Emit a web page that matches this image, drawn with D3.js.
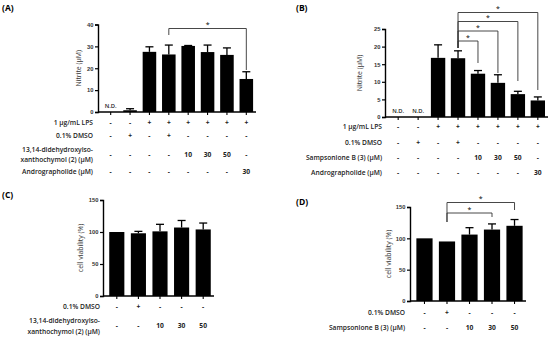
<!DOCTYPE html>
<html>
<head>
<meta charset="utf-8">
<script src="https://cdn.jsdelivr.net/npm/d3@7"></script>
<style>
  body { margin: 0; background: #fff; }
  svg { font-family: "Open Sans", sans-serif; }
  .tick text { font-size: 5.8px; font-weight: 600; fill: #333; }
  .rowlab { font-size: 6.7px; font-weight: 600; fill: #222; }
  .sign { font-size: 6.7px; font-weight: 700; fill: #222; }
  .plab { font-size: 8.5px; font-weight: 700; }
  .ytitle { font-size: 6.9px; fill: #333; }
</style>
</head>
<body>
<svg id="fig" width="550" height="340"></svg>
<script>
// data
var nitriteA = [0, 0.8, 27.5, 26.3, 30.2, 27.4, 26.1, 15.1];
var nitriteAErr = [0, 0.7, 2.3, 4.3, 0.2, 3.2, 3.2, 3.3];
var nitriteB = [0, 0, 16.8, 16.7, 12.3, 9.7, 6.5, 4.7];
var nitriteBErr = [0, 0, 3.7, 2.1, 0.9, 2.3, 0.8, 1.0];
var viabC = [100, 98, 101, 107, 104];
var viabCErr = [0, 3, 11, 11, 10];
var viabD = [100, 95, 106, 114, 120];
var viabDErr = [0, 0, 11, 9, 10];

var lpsRow = ["-", "-", "+", "+", "+", "+", "+", "+"];
var dmsoRow8 = ["-", "+", "-", "+", "-", "-", "-", "-"];
var cmpdRow8 = ["-", "-", "-", "-", "10", "30", "50", "-"];
var androRow = ["-", "-", "-", "-", "-", "-", "-", "30"];
var dmsoRow5 = ["-", "+", "-", "-", "-"];
var cmpdRow5 = ["-", "-", "10", "30", "50"];
var ndA = [true, false, false, false, false, false, false, false];
var ndB = [true, true, false, false, false, false, false, false];

var svg = d3.select("#fig");

function panel(o) {
  var n = o.vals.length;
  var g = svg.append("g");
  var x = d3.scaleBand().domain(d3.range(n)).range([o.x0 + 3, o.x1]).paddingInner(o.pad).paddingOuter(0.15);
  var y = d3.scaleLinear().domain([0, o.ymax]).range([o.y0, o.ytop]);

  g.selectAll("rect.bar").data(o.vals).enter().append("rect")
    .attr("x", function(d, i) { return x(i); })
    .attr("width", x.bandwidth())
    .attr("y", function(d) { return y(d); })
    .attr("height", function(d) { return o.y0 - y(d); })
    .attr("fill", "#000");

  // error bars (upper only)
  o.vals.forEach(function(v, i) {
    var e = o.errs[i];
    if (!e) return;
    var cx = x(i) + x.bandwidth() / 2;
    g.append("line").attr("x1", cx).attr("x2", cx).attr("y1", y(v)).attr("y2", y(v + e))
      .attr("stroke", "#000").attr("stroke-width", 1.3);
    g.append("line").attr("x1", cx - 4).attr("x2", cx + 4).attr("y1", y(v + e)).attr("y2", y(v + e))
      .attr("stroke", "#000").attr("stroke-width", 1.3);
  });

  if (o.nd) o.nd.forEach(function(f, i) {
    if (!f) return;
    g.append("text").attr("x", x(i) + x.bandwidth() / 2).attr("y", o.y0 - 4)
      .attr("text-anchor", "middle").style("font-size", "5.8px").style("font-weight", "600").style("fill", "#222").text("N.D.");
  });

  var ya = g.append("g").attr("transform", "translate(" + o.x0 + ",0)")
    .call(d3.axisLeft(y).tickValues(o.ticks).tickSize(3).tickPadding(1.5));
  ya.select(".domain").attr("stroke-width", 1.4);
  ya.selectAll(".tick line").attr("stroke-width", 1.2);

  var xa = g.append("g").attr("transform", "translate(0," + o.y0 + ")")
    .call(d3.axisBottom(x).tickSize(3).tickFormat("").tickSizeOuter(0));
  xa.select(".domain").attr("stroke-width", 1.4).attr("d", "M" + o.x0 + ",0H" + o.x1);
  xa.selectAll(".tick line").attr("stroke-width", 1.1);

  g.append("text").attr("class", "ytitle").attr("text-anchor", "middle")
    .attr("transform", "translate(" + o.ytx + "," + ((o.y0 + o.ytop) / 2) + ") rotate(-90)")
    .text(o.ytitle);

  g.append("text").attr("class", "plab").attr("x", o.plx).attr("y", o.ply).text(o.plab);

  // treatment rows
  o.rows.forEach(function(r) {
    r.lab.forEach(function(t, k) {
      g.append("text").attr("class", "rowlab").attr("text-anchor", "end")
        .attr("x", o.labx).attr("y", r.y + (k - (r.lab.length - 1) / 2) * 10.5 + 2.3).text(t);
    });
    r.vals.forEach(function(t, i) {
      g.append("text").attr("class", "sign").attr("text-anchor", "middle")
        .attr("x", x(i) + x.bandwidth() / 2).attr("y", r.y + 2.3).text(t);
    });
  });

  // significance brackets
  (o.sig || []).forEach(function(s) {
    var xa0 = x(s.from) + x.bandwidth() / 2, xb = x(s.to) + x.bandwidth() / 2;
    g.append("path")
      .attr("d", "M" + xa0 + "," + s.leftBottom + "V" + s.top + "H" + xb + "V" + s.rightBottom)
      .attr("fill", "none").attr("stroke", "#333").attr("stroke-width", 0.9);
    g.append("text").attr("x", (xa0 + xb) / 2).attr("y", s.top - 1.5).attr("text-anchor", "middle")
      .style("font-size", "7px").text("*");
  });
}

panel({
  vals: nitriteA, errs: nitriteAErr, nd: ndA,
  x0: 98, x1: 256, y0: 112, ytop: 24.5, ymax: 40, ticks: [0, 10, 20, 30, 40], pad: 0.3,
  ytitle: "Nitrite (\u00b5M)", ytx: 81, plab: "(A)", plx: 2, ply: 11,
  labx: 93,
  rows: [
    { lab: ["1 \u00b5g/mL LPS"], vals: lpsRow, y: 122.5 },
    { lab: ["0.1% DMSO"], vals: dmsoRow8, y: 136 },
    { lab: ["13,14-didehydroxyiso-", "xanthochymol (2) (\u00b5M)"], vals: cmpdRow8, y: 154.5 },
    { lab: ["Andrographolide (\u00b5M)"], vals: androRow, y: 172 }
  ],
  sig: [{ from: 3, to: 7, top: 28.5, leftBottom: 35, rightBottom: 70 }]
});

panel({
  vals: nitriteB, errs: nitriteBErr, nd: ndB,
  x0: 385, x1: 548, y0: 117, ytop: 29, ymax: 25, ticks: [0, 5, 10, 15, 20, 25], pad: 0.28,
  ytitle: "Nitrite (\u00b5M)", ytx: 362, plab: "(B)", plx: 296, ply: 11,
  labx: 382,
  rows: [
    { lab: ["1 \u00b5g/mL LPS"], vals: lpsRow, y: 127 },
    { lab: ["0.1% DMSO"], vals: dmsoRow8, y: 143 },
    { lab: ["Sampsonione B (3) (\u00b5M)"], vals: cmpdRow8, y: 158 },
    { lab: ["Andrographolide (\u00b5M)"], vals: androRow, y: 172.5 }
  ],
  sig: [
    { from: 3, to: 4, top: 41, leftBottom: 48, rightBottom: 63 },
    { from: 3, to: 5, top: 31, leftBottom: 48, rightBottom: 73 },
    { from: 3, to: 6, top: 21.5, leftBottom: 48, rightBottom: 81 },
    { from: 3, to: 7, top: 12.5, leftBottom: 48, rightBottom: 90 }
  ]
});

panel({
  vals: viabC, errs: viabCErr,
  x0: 103, x1: 214, y0: 296, ytop: 200, ymax: 150, ticks: [0, 50, 100, 150], pad: 0.3,
  ytitle: "cell viability (%)", ytx: 83, plab: "(C)", plx: 2, ply: 198,
  labx: 100,
  rows: [
    { lab: ["0.1% DMSO"], vals: dmsoRow5, y: 307 },
    { lab: ["13,14-didehydroxyiso-", "xanthochymol (2) (\u00b5M)"], vals: cmpdRow5, y: 326 }
  ]
});

panel({
  vals: viabD, errs: viabDErr,
  x0: 410, x1: 526, y0: 301, ytop: 207, ymax: 150, ticks: [0, 50, 100, 150], pad: 0.28,
  ytitle: "cell viability (%)", ytx: 391, plab: "(D)", plx: 296, ply: 205,
  labx: 405,
  rows: [
    { lab: ["0.1% DMSO"], vals: dmsoRow5, y: 313 },
    { lab: ["Sampsonione B (3) (\u00b5M)"], vals: cmpdRow5, y: 328 }
  ],
  sig: [
    { from: 1, to: 3, top: 213, leftBottom: 222, rightBottom: 217 },
    { from: 1, to: 4, top: 202.5, leftBottom: 222, rightBottom: 210 }
  ]
});
</script>
</body>
</html>
